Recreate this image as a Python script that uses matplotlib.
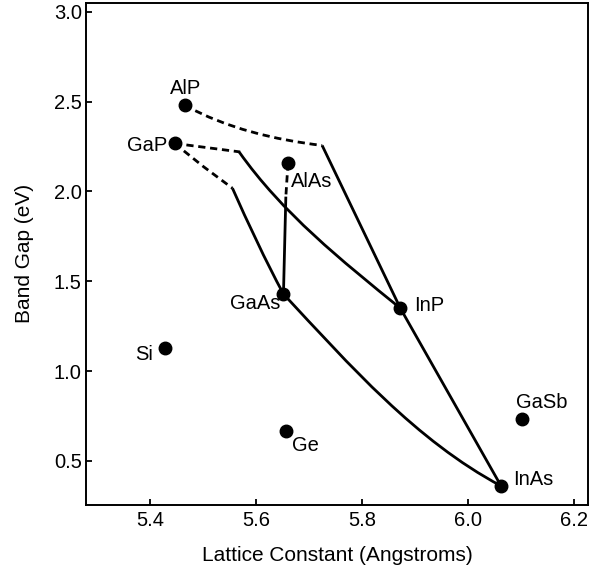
import matplotlib
matplotlib.use("Agg")
import matplotlib.pyplot as plt
from matplotlib.path import Path
from matplotlib.patches import PathPatch

plt.rcParams["font.family"] = ["Liberation Sans", "DejaVu Sans"]

# compound points: lattice constant (Angstroms), band gap (eV)
names = ["AlP", "GaP", "AlAs", "GaAs", "InP", "InAs", "GaSb", "Ge", "Si"]
lattice = [5.465, 5.446, 5.660, 5.6515, 5.872, 6.062, 6.102, 5.656, 5.428]
gap = [2.479, 2.267, 2.156, 1.429, 1.350, 0.361, 0.732, 0.665, 1.129]

# label anchor (x, baseline y, ha)
label_x = [5.467, 5.432, 5.6655, 5.645, 5.8987, 6.0843, 6.1396, 5.6673, 5.406]
label_y = [2.542, 2.225, 2.026, 1.344, 1.336, 0.366, 0.793, 0.556, 1.062]
label_ha = ["center", "right", "left", "right", "left", "left", "center", "left", "right"]

# alloy curves as cubic Bezier control points (x list, y list)
alp_curve_x = [5.4651, 5.5443, 5.6345, 5.7245]
alp_curve_y = [2.4794, 2.3514, 2.2874, 2.2557]
gainp_curve_x = [5.5679, 5.6491, 5.7611, 5.872]
gainp_curve_y = [2.2195, 1.8801, 1.6152, 1.350]
gaasp_curve_x = [5.5553, 5.5853, 5.6166, 5.6515]
gaasp_curve_y = [2.0175, 1.8194, 1.6197, 1.429]
ingaas_curve_x = [5.6515, 5.7760, 5.9019, 6.062]
ingaas_curve_y = [1.429, 1.0342, 0.6130, 0.361]

# straight / polyline pieces
gap_up_dash_x = [5.446, 5.5698]
gap_up_dash_y = [2.267, 2.2195]
gap_lo_dash_x = [5.446, 5.5006, 5.5553]
gap_lo_dash_y = [2.267, 2.1377, 2.0175]
alas_dash_x = [5.660, 5.656]
alas_dash_y = [2.156, 1.9708]
algaas_x = [5.656, 5.6515]
algaas_y = [1.9708, 1.429]
alinp_x = [5.7245, 5.872]
alinp_y = [2.2557, 1.350]
inasp_x = [5.872, 6.062]
inasp_y = [1.350, 0.361]

fig = plt.figure(figsize=(5.92, 5.71), dpi=100)
ax = fig.add_axes([0.1453, 0.1156, 0.8479, 0.8797])

lw = 2.0
dash = (2.6, 1.7)


def bezier(xs, ys, dashed=False):
    verts = list(zip(xs, ys))
    codes = [Path.MOVETO, Path.CURVE4, Path.CURVE4, Path.CURVE4]
    ls = (0, dash) if dashed else "solid"
    ax.add_patch(PathPatch(Path(verts, codes), fill=False, edgecolor="black",
                           lw=lw, linestyle=ls, capstyle="butt"))


bezier(alp_curve_x, alp_curve_y, dashed=True)
bezier(gainp_curve_x, gainp_curve_y)
bezier(gaasp_curve_x, gaasp_curve_y)
bezier(ingaas_curve_x, ingaas_curve_y)

for xs, ys in [(gap_up_dash_x, gap_up_dash_y), (gap_lo_dash_x, gap_lo_dash_y),
               (alas_dash_x, alas_dash_y)]:
    ax.plot(xs, ys, color="black", lw=lw, dashes=dash, dash_capstyle="butt")
for xs, ys in [(algaas_x, algaas_y), (alinp_x, alinp_y), (inasp_x, inasp_y)]:
    ax.plot(xs, ys, color="black", lw=lw, solid_capstyle="butt")

ax.plot(lattice, gap, "o", color="black", ms=9, zorder=5)

for name, tx, ty, ha in zip(names, label_x, label_y, label_ha):
    ax.text(tx, ty, name, ha=ha, va="baseline", fontsize=14.5)

ax.set_xlim(5.279, 6.226)
ax.set_ylim(0.255, 3.05)
ax.set_xticks([5.4, 5.6, 5.8, 6.0, 6.2])
ax.set_yticks([0.5, 1.0, 1.5, 2.0, 2.5, 3.0])
ax.set_xticklabels(["5.4", "5.6", "5.8", "6.0", "6.2"])
ax.set_yticklabels(["0.5", "1.0", "1.5", "2.0", "2.5", "3.0"])
ax.tick_params(direction="in", length=4.3, width=1.3, labelsize=14.5,
               top=False, right=False)
ax.tick_params(axis="x", pad=4)
ax.tick_params(axis="y", pad=3)
for sp in ax.spines.values():
    sp.set_linewidth(1.4)

ax.set_xlabel("Lattice Constant (Angstroms)", fontsize=15, labelpad=11.5)
ax.set_ylabel("Band Gap (eV)", fontsize=15, labelpad=14)

fig.savefig("out.png", dpi=100)
